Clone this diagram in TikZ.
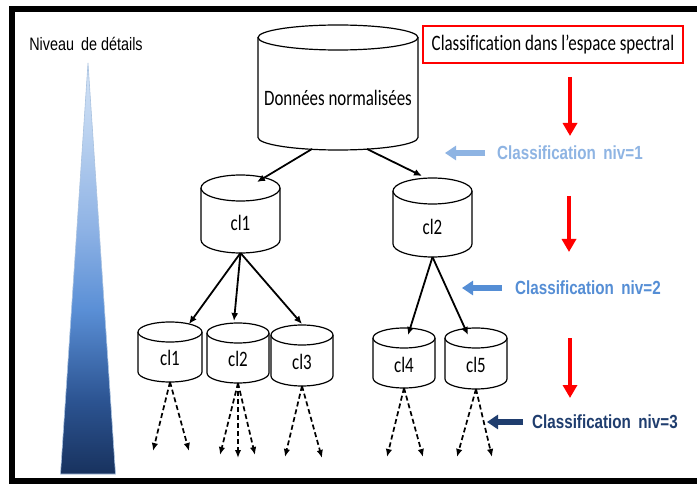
\documentclass[tikz,border=0pt]{standalone}
\usepackage{fontspec}
\usetikzlibrary{arrows.meta,calc}
\newfontfamily\calib[FakeStretch=0.77,Ligatures=NoCommon]{Carlito}
\newfontfamily\arialn[FakeStretch=0.8]{Liberation Sans}
\definecolor{lvlone}{HTML}{8EB4E3}
\definecolor{lvltwo}{HTML}{558ED5}
\definecolor{lvlthree}{HTML}{1F3D6E}
\definecolor{alertred}{HTML}{FF0000}
\definecolor{pyredge}{HTML}{A9C2E0}

% colour ramp of the detail pyramid, from its base (25bp) up to its tip (75bp)
\pgfdeclareverticalshading{pyramid}{100bp}{%
  color(0bp)=(rgb,255:red,24;green,50;blue,94);
  color(25bp)=(rgb,255:red,24;green,50;blue,94);
  color(34bp)=(rgb,255:red,44;green,84;blue,146);
  color(45bp)=(rgb,255:red,90;green,143;blue,214);
  color(55bp)=(rgb,255:red,143;green,179;blue,229);
  color(67bp)=(rgb,255:red,188;green,211;blue,240);
  color(75bp)=(rgb,255:red,210;green,226;blue,245);
  color(100bp)=(rgb,255:red,210;green,226;blue,245)}

% cylinder: name, cx, top, bottom, rx, ry, text y, text
\newcommand\dbcyl[8]{%
  \filldraw[cylline] (#2-#5,#3+#6) -- (#2-#5,#4-#6)
    arc[start angle=180,end angle=0,x radius=#5,y radius=#6] -- (#2+#5,#3+#6);
  \filldraw[cylline] (#2,#3+#6) ellipse[x radius=#5,y radius=#6];
  \node[cylbox,minimum width=2*#5,minimum height=#4-#3] (#1) at (#2,{(#3+#4)/2}) {};
  \node[cyltext] (#1t) at (#2,#7) {#8};
}

\begin{document}
\begin{tikzpicture}[x=1pt,y=-1pt,
  cylline/.style={draw=black,fill=white,line width=1.2pt},
  cylbox/.style={inner sep=0pt,outer sep=0pt},
  cyltext/.style={inner sep=0pt,font=\calib\fontsize{22}{26}\selectfont},
  solidarrow/.style={line width=1.8pt,-{Latex[length=8pt,width=7pt]}},
  dasharrow/.style={line width=1.7pt,dash pattern=on 5pt off 3pt,-{Latex[length=8pt,width=6.5pt]}},
  redarrow/.style={alertred,line width=4pt,-{Triangle[length=13pt,width=14pt]}},
  bluearrow/.style={line width=5.5pt,-{Triangle[length=11pt,width=14pt]}},
  lvllabel/.style={anchor=west,inner sep=0pt,font=\arialn\bfseries\fontsize{19}{22}\selectfont}]
\useasboundingbox (0,0) rectangle (697,484);
\fill[white] (0,0) rectangle (697,484);

% outer frame
\draw[line width=6pt] (697,9) -- (11.5,9) -- (11.5,481) -- (697,481);

% detail scale
\node[inner sep=0pt,font=\arialn\fontsize{18}{22}\selectfont] (niveau) at (86,44) {Niveau\, de détails};
\shade[shading=pyramid,draw=pyredge,line width=0.6pt]
  (88,63) -- (115.5,474) -- (60.5,474) -- cycle;

% cylinders
\dbcyl{D}{338}{25}{150}{80}{12.5}{98}{Données normalisées}
\dbcyl{A1}{240.5}{175}{253}{39.5}{13}{223}{cl1}
\dbcyl{A2}{432.5}{178}{257}{39.5}{13}{227}{cl2}
\dbcyl{B1}{170}{322}{382}{32}{10}{358}{cl1}
\dbcyl{B2}{238}{323}{383}{31}{10}{359}{cl2}
\dbcyl{B3}{302}{325}{386}{31}{10}{362}{cl3}
\dbcyl{B4}{404}{328}{388}{31}{10}{365}{cl4}
\dbcyl{B5}{476}{328}{389}{31}{10}{365}{cl5}

% tree links
\draw[solidarrow] ($(D.south)+(-26,-1)$) -- ($(A1.north)+(16.5,7)$);
\draw[solidarrow] ($(D.south)+(29,-1)$) -- ($(A2.north)+(-10.5,-2)$);
\draw[solidarrow] (A1.south) -- ($(B1.north)+(19,2)$);
\draw[solidarrow] (A1.south) -- ($(B2.north)+(-4,-2)$);
\draw[solidarrow] (A1.south) -- ($(B3.north)+(0,-1)$);
\draw[solidarrow] (A2.south) -- ($(B4.north)+(4,7)$);
\draw[solidarrow] (A2.south) -- ($(B5.north)+(-8,7)$);

% further splits
\coordinate (e11) at (153,451);
\coordinate (e12) at (189,451);
\coordinate (e21) at (220,455);
\coordinate (e22) at (238,458);
\coordinate (e23) at (255,455);
\coordinate (e31) at (285,457);
\coordinate (e32) at (322,458);
\coordinate (e41) at (387,457);
\coordinate (e42) at (423,457);
\coordinate (e51) at (457,457);
\coordinate (e52) at (492,457);
\foreach \src/\dst in {B1/e11,B1/e12,B2/e21,B2/e22,B2/e23,B3/e31,B3/e32,B4/e41,B4/e42,B5/e51,B5/e52}
  \draw[dasharrow] (\src.south) -- (\dst);

% spectral classification box
\node[draw=alertred,line width=2.5pt,minimum width=260pt,minimum height=37pt,inner sep=0pt,
  font=\calib\fontsize{22}{26}\selectfont] (spec) at (553,44.5) {Classification dans l’espace spectral};

% downward steps
\coordinate (r1a) at (570,77);  \coordinate (r1b) at (570,136);
\coordinate (r2a) at (569,196); \coordinate (r2b) at (569,252);
\coordinate (r3a) at (570,338); \coordinate (r3b) at (570,398);
\draw[redarrow] (r1a) -- (r1b);
\draw[redarrow] (r2a) -- (r2b);
\draw[redarrow] (r3a) -- (r3b);

% level labels
\node[lvllabel,text=lvlone] (niv1) at (497,153) {Classification\, niv=1};
\node[lvllabel,text=lvltwo] (niv2) at (515,288) {Classification\, niv=2};
\node[lvllabel,text=lvlthree] (niv3) at (532,422) {Classification\, niv=3};
\coordinate (b1) at (445,153);
\coordinate (b2) at (462,288);
\coordinate (b3) at (487,422);
\draw[bluearrow,lvlone] ($(niv1.west)+(-12,0)$) -- (b1);
\draw[bluearrow,lvltwo] ($(niv2.west)+(-13,0)$) -- (b2);
\draw[bluearrow,lvlthree] ($(niv3.west)+(-9,0)$) -- (b3);
\end{tikzpicture}
\end{document}
